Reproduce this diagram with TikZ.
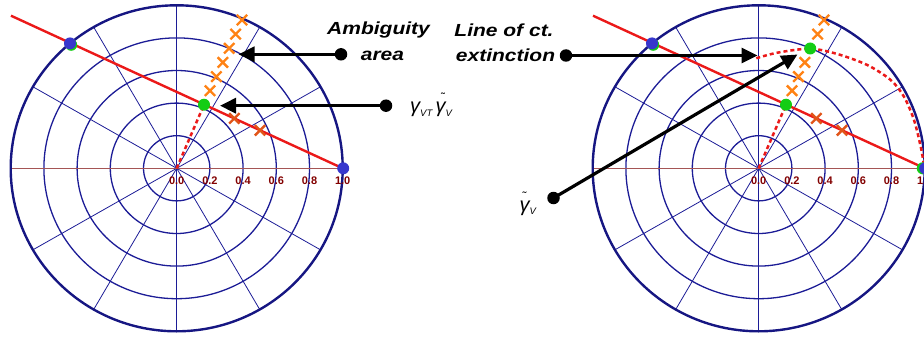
\documentclass[tikz,border=0pt]{standalone}
\usepackage{fontspec}
\setmainfont{Liberation Sans}
\usetikzlibrary{arrows.meta,shapes.misc}
\definecolor{gridnavy}{RGB}{28,28,150}
\definecolor{outernavy}{RGB}{22,22,130}
\definecolor{axisbrown}{RGB}{165,85,85}
\definecolor{ticktext}{RGB}{130,0,0}
\definecolor{linered}{RGB}{235,25,25}
\definecolor{crossorange}{RGB}{255,130,20}
\definecolor{crossdark}{RGB}{225,85,25}
\definecolor{dotgreen}{RGB}{20,205,20}
\definecolor{dotblue}{RGB}{55,55,205}

\newcommand\lbl[1]{\scalebox{1.2}[1]{\fontsize{17.5}{20}\selectfont\bfseries\itshape #1}}
\newcommand\gbig{\fontsize{20}{20}\selectfont\itshape}
\newcommand\gsub[1]{\raisebox{-3pt}{\fontsize{9.5}{10}\selectfont\itshape #1}}
\newcommand\gtil[1]{γ\llap{\raisebox{11pt}{\fontsize{12}{12}\selectfont\upshape ˜}\kern#1}}

\newcommand\polgrid[1]{%
  \foreach \r in {0.2,0.4,0.6,0.8}
    \draw[ringline] (0,0) ellipse [x radius=166*\r, y radius=163*\r];
  \foreach \a in {30,60,90,120,150}
    \draw[spokeline] ({-166*cos(\a)},{163*sin(\a)}) -- ({166*cos(\a)},{-163*sin(\a)});
  \draw[axisline] (-166,0) -- (166,0);
  \draw[outerline] (0,0) ellipse [x radius=166, y radius=163];
  \foreach \tk [count=\i] in {0.0,0.2,0.4,0.6,0.8,1.0}
    \node[ticklabel] (#1t\i) at ({33.2*(\i-1)},12.4) {\tk};
}

\begin{document}
\begin{tikzpicture}[x=1pt,y=-1pt,
  ringline/.style={draw=gridnavy,line width=1.3pt},
  spokeline/.style={draw=gridnavy,line width=0.8pt},
  axisline/.style={draw=axisbrown,line width=1.1pt},
  outerline/.style={draw=outernavy,line width=2.4pt},
  ticklabel/.style={text=ticktext,font=\fontsize{11}{11}\selectfont\bfseries,inner sep=0pt},
  redline/.style={draw=linered,line width=2.4pt},
  reddot/.style={draw=linered,line width=2.5pt,dash pattern=on 4pt off 3pt},
  xup/.style={cross out,draw=crossorange,line width=2.4pt,minimum size=8pt,inner sep=0pt},
  xdn/.style={cross out,draw=crossdark,line width=2.4pt,minimum size=8pt,inner sep=0pt},
  gdot/.style={circle,fill=dotgreen,minimum size=12pt,inner sep=0pt},
  bdot/.style={circle,fill=dotblue,minimum size=12pt,inner sep=0pt},
  kdot/.style={circle,fill=black,minimum size=12.5pt,inner sep=0pt},
  arr/.style={draw=black,line width=3.2pt,-{Triangle[length=16pt,width=15pt]}},
  txt/.style={inner sep=0pt,anchor=base}]
\useasboundingbox (0,0) rectangle (924,337);

% ---------------- left plot ----------------
\begin{scope}[shift={(176.7,168.3)}]
  \polgrid{L}
  \coordinate (Lo) at (0,0);
  \coordinate (Lr1) at (166,0);
  \coordinate (Lr2) at (-165.7,-152.6);
  \draw[redline] (Lr1) -- (Lr2);
  \coordinate (Lgc) at (27.3,-63.6);
  \draw[reddot] (Lo) -- (Lgc);
  \node[gdot] (Lg) at (Lgc) {};
  \node[xup] (Lx1) at (33.3,-77.6) {};
  \node[xup] (Lx2) at (39.7,-91.7) {};
  \node[xup] (Lx3) at (46.1,-105.9) {};
  \node[xup] (Lx4) at (52.5,-120) {};
  \node[xup] (Lx5) at (58.9,-134.2) {};
  \node[xup] (Lx6) at (65.3,-148.3) {};
  \node[xdn] (Lx7) at (57.6,-49.9) {};
  \node[xdn] (Lx8) at (83.3,-38) {};
  \node[gdot] (Lgb) at (-105.5,-123.5) {};
  \node[bdot] (Lb1) at (-106.7,-124.9) {};
  \node[bdot] (Lb2) at (166.5,0) {};
\end{scope}

% ---------------- right plot ----------------
\begin{scope}[shift={(758.7,168.3)}]
  \polgrid{R}
  \coordinate (Ro) at (0,0);
  \coordinate (Rr1) at (166,0);
  \coordinate (Rr2) at (-165.7,-152.6);
  \draw[redline] (Rr1) -- (Rr2);
  \draw[reddot] plot[smooth] coordinates {(-2.4,-110) (18.6,-115.6) (51.3,-119.6) (78.6,-114.3) (108.6,-103.3) (132,-88.3) (145.3,-71.6) (155.3,-48.3) (162,-21.6) (165.3,-3)};
  \coordinate (Rgc) at (27.3,-63.6);
  \draw[reddot] (Ro) -- (Rgc);
  \node[gdot] (Rg) at (Rgc) {};
  \node[xup] (Rx1) at (33.3,-77.6) {};
  \node[xup] (Rx2) at (39.7,-91.7) {};
  \node[xup] (Rx3) at (46.1,-105.9) {};
  \node[gdot] (Rg2) at (51.5,-119.8) {};
  \node[xup] (Rx5) at (58.9,-134.2) {};
  \node[xup] (Rx6) at (65.3,-148.3) {};
  \node[xdn] (Rx7) at (57.6,-49.9) {};
  \node[xdn] (Rx8) at (83.3,-38) {};
  \node[gdot] (Rgb) at (-105.5,-123.5) {};
  \node[bdot] (Rb1) at (-106.7,-124.9) {};
  \node[gdot] (Rgb2) at (164,0) {};
  \node[bdot] (Rb2) at (166.5,0) {};
\end{scope}

% ---------------- labels ----------------
\node[txt] (amb1) at (378.5,35) {\lbl{Ambiguity}};
\node[txt] (amb2) at (382.5,61) {\lbl{area}};
\node[txt] (lin1) at (504,36.5) {\lbl{Line of ct.}};
\node[txt] (lin2) at (505.5,61.5) {\lbl{extinction}};

\node[inner sep=0pt,anchor=base west] (gl) at (410,113) {\gbig γ\gsub{VT}\,\gtil{0.5pt}\gsub{V}};
\node[inner sep=0pt,anchor=base west] (gr) at (519.5,211) {\gbig \gtil{3pt}\gsub{V}};

% ---------------- arrows ----------------
\node[kdot] (dA) at (341,54.3) {};
\coordinate (tA) at (238.5,54.3);
\draw[arr] (dA.center) -- (tA);
\node[kdot] (dB) at (386,105.7) {};
\coordinate (tB) at (220,105.7);
\draw[arr] (dB.center) -- (tB);
\node[kdot] (dC) at (566,55.5) {};
\coordinate (tC) at (757.5,55.5);
\draw[arr] (dC.center) -- (tC);
\node[kdot] (dD) at (553.5,198) {};
\coordinate (tD) at (797.5,54.5);
\draw[arr] (dD.center) -- (tD);
\end{tikzpicture}
\end{document}
